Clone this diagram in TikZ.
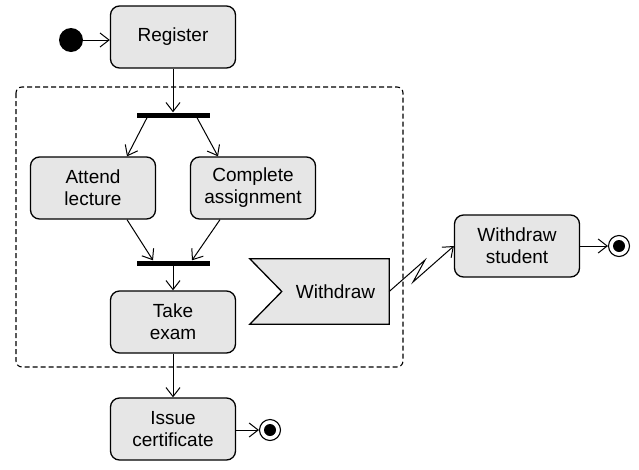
\documentclass[tikz,border=0pt]{standalone}
\usepackage{fontspec}
\setmainfont{Liberation Sans}
\usepackage{xcolor}
\usetikzlibrary{arrows.meta, math, calc}
\definecolor{actgray}{HTML}{E6E6E6}
\tikzset{
  act/.style={draw, line width=1.3pt, fill=actgray, rounded corners=9pt,
    minimum width=125pt, minimum height=62pt, align=center, inner sep=2pt,
    font=\fontsize{19}{22}\selectfont},
  bar/.style={fill=black, minimum width=73pt, minimum height=5pt, inner sep=0pt},
  flow/.style={-{Straight Barb[length=9pt,width=14pt]}, line width=1pt},
  startnode/.style={circle, fill=black, minimum size=24pt, inner sep=0pt},
  endnode/.style={circle, draw, line width=1.1pt, fill=white, minimum size=21pt, inner sep=0pt,
    path picture={\fill[black] (path picture bounding box.center) circle (6pt);}},
}
\begin{document}
\begin{tikzpicture}[x=1pt, y=-1pt]
\tikzmath{
\cx=173;
}
\useasboundingbox (0,0) rectangle (639,469);

% region
\draw[dash pattern=on 5pt off 3pt, line width=1.1pt, rounded corners=6pt] (16,87) rectangle (403,367);

\node[startnode] (init) at (71,40) {};
\node[act] (reg) at (\cx,37) {Register};
\node[bar] (fork) at (\cx,115) {};
\node[act] (lec) at (93,188) {Attend\\lecture};
\node[act] (asg) at (253,188) {Complete\\assignment};
\node[bar] (join) at (\cx,263) {};
\node[act] (exam) at (\cx,322) {Take\\exam};
\node[act] (cert) at (\cx,429) {Issue\\certificate};
\node[endnode] (end1) at (270,430) {};

% accept signal
\node[minimum width=139pt, minimum height=65pt, inner sep=0pt] (sig) at (319.5,291.5) {};
\draw[line width=1.3pt, fill=actgray] (sig.north west) -- (sig.north east) -- (sig.south east)
  -- (sig.south west) -- ($(sig.west)+(32,0)$) -- cycle;
\node[font=\fontsize{19}{22}\selectfont] (sigtxt) at ($(sig.center)+(16,0)$) {Withdraw};

\node[act] (wds) at (517,246) {Withdraw\\student};
\node[endnode] (end2) at (619,246) {};

\coordinate (z1) at (425,260);
\coordinate (z2) at (413,282);

\draw[flow] (init) -- (reg.west |- init);
\draw[flow] (reg) -- (fork);
\draw[flow] ($(fork.south)+(-26,0)$) -- ($(lec.north)+(34,0)$);
\draw[flow] ($(fork.south)+(24,0)$) -- ($(asg.north)+(-35,0)$);
\draw[flow] ($(lec.south)+(34,0)$) -- ($(join.north)+(-20,0)$);
\draw[flow] ($(asg.south)+(-33,0)$) -- ($(join.north)+(19,0)$);
\draw[flow] (join) -- (exam);
\draw[flow] (exam) -- (cert);
\draw[flow] (cert.east |- end1) -- (end1);
\draw[flow] (sig.east) -- (z1) -- (z2) -- (wds.west);
\draw[flow] (wds) -- (end2);

\end{tikzpicture}
\end{document}
